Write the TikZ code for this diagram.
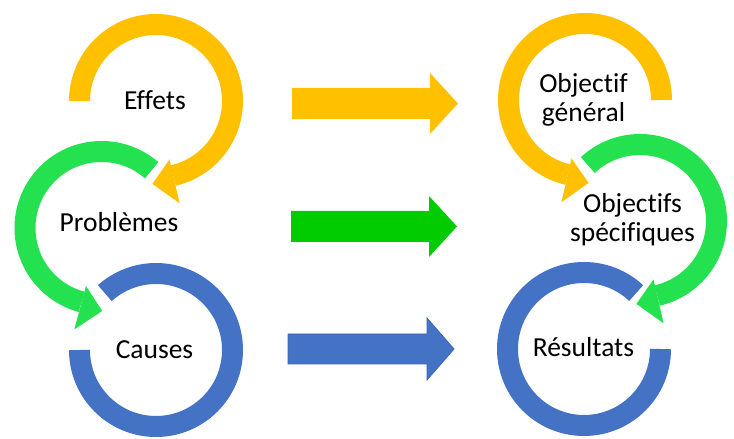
\documentclass[tikz,border=0pt]{standalone}
\usepackage{fontspec}
\setmainfont{Carlito}[Ligatures=NoCommon]
\definecolor{ringyellow}{HTML}{FFC000}
\definecolor{ringgreen}{HTML}{24E150}
\definecolor{ringblue}{HTML}{4472C4}
\definecolor{arrowgreen}{HTML}{00CC00}
\definecolor{arrowblueline}{HTML}{3A64B0}
\newcommand\mycircarrow[5]{%
  \draw[band, draw=#1] ([shift={(#3:76.5pt)}]#2) arc[start angle=#3, end angle=#4, radius=76.5pt];
  \fill[#1] ([shift={(#4:60pt)}]#2) -- ([shift={(#4:105pt)}]#2) -- ([shift={(#5:83pt)}]#2) -- cycle;}
\newcommand\myring[4]{%
  \draw[band, draw=#1] ([shift={(#3:76.5pt)}]#2) arc[start angle=#3, end angle=#4, radius=76.5pt];}
\begin{document}
\begin{tikzpicture}[x=1pt,y=1pt,
  band/.style={line width=21pt, line cap=butt},
  lbl/.style={font=\fontsize{27.5}{29}\selectfont, text=black, inner sep=0pt, align=center, anchor=base},
  blockarrow/.style={draw=none}]
\useasboundingbox (0,0) rectangle (734,439);
% ring centres
\coordinate (LY) at (156,338);
\coordinate (LG) at (101.5,211);
\coordinate (LB) at (156,89);
\coordinate (RY) at (585,339);
\coordinate (RG) at (640,218);
\coordinate (RB) at (584,90);
% left column
\myring{ringblue}{LB}{180}{492}
\mycircarrow{ringgreen}{LG}{49}{255}{270.5}
\mycircarrow{ringyellow}{LY}{180}{-77}{-92.5}
% right column
\myring{ringblue}{RB}{0}{-313}
\mycircarrow{ringgreen}{RG}{133}{-77}{-92.5}
\mycircarrow{ringyellow}{RY}{0}{257}{272.5}
% middle block arrows
\fill[ringyellow] (292,320) -- (430,320) -- (430,305) -- (458,335.5) -- (430,366) -- (430,351) -- (292,351) -- cycle;
\fill[arrowgreen] (291,197) -- (429,197) -- (429,182) -- (457,212.5) -- (429,243) -- (429,228) -- (291,228) -- cycle;
\filldraw[fill=ringblue, draw=arrowblueline, line width=0.8pt] (288,75) -- (427,75) -- (427,59) -- (454,90) -- (427,121) -- (427,105) -- (288,105) -- cycle;
% labels
\node[lbl] (effets) at (155,329) {Effets};
\node[lbl] (problemes) at (119,207) {Problèmes};
\node[lbl] (causes) at (154.5,80) {Causes};
\node[lbl] (objgen) at (583.5,317) {Objectif\\général};
\node[lbl] (objspec) at (632.5,197) {Objectifs\\spécifiques};
\node[lbl] (resultats) at (583.5,82) {Résultats};
\end{tikzpicture}
\end{document}
